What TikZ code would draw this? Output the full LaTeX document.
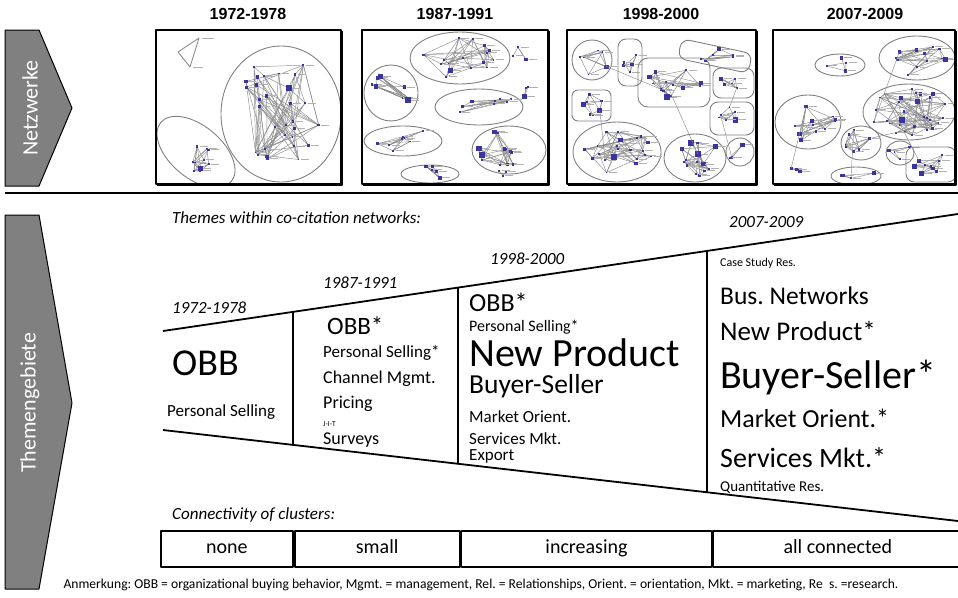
\documentclass[tikz,border=0pt]{standalone}
\usepackage{fontspec}
\setmainfont{Carlito}
\newfontfamily\headfont{Liberation Sans}
\definecolor{pfeilgris}{rgb}{0.5,0.5,0.5}
\definecolor{netblue}{rgb}{0.23,0.2,0.62}
\definecolor{ringgris}{rgb}{0.5,0.5,0.5}
\usetikzlibrary{positioning}
\frenchspacing

\newcommand{\fsz}[1]{\fontsize{#1}{#1}\selectfont}

% points, edges and label strokes of one cluster
\newcommand{\netdots}[6]{%
  \foreach \k in {1,...,#6}{%
    \pgfmathsetmacro{\ang}{360*rnd}%
    \pgfmathsetmacro{\rr}{0.85*sqrt(rnd)}%
    \coordinate (#1-\k) at ({#2+#4*\rr*cos(\ang)},{#3+#5*\rr*sin(\ang)});%
  }%
  \foreach \k in {1,...,#6}{%
    \pgfmathtruncatemacro{\ja}{random(1,#6)}%
    \pgfmathtruncatemacro{\jb}{random(1,#6)}%
    \pgfmathtruncatemacro{\jc}{random(1,#6)}%
    \draw[netedge] (#1-\k) -- (#1-\ja) (#1-\k) -- (#1-\jb) (#1-\k) -- (#1-\jc);%
  }%
  \foreach \k in {1,...,#6}{%
    \draw[netlabel] (#1-\k) ++(2.5,0) -- ++(8,0);%
    \pgfmathsetmacro{\sz}{0.9+2.2*rnd^4}%
    \fill[netblue] (#1-\k) ++(-\sz,-\sz) rectangle ++(2*\sz,2*\sz);%
  }%
}
\newcommand{\netblob}[6]{%
  \draw[netring] (#2,#3) ellipse [x radius=#4, y radius=#5];%
  \netdots{#1}{#2}{#3}{#4}{#5}{#6}%
}

\begin{document}
\begin{tikzpicture}[x=1pt, y=-1pt, line join=round]
  \tikzstyle{pfeil}=[fill=pfeilgris, draw=black, line width=1pt]
  \tikzstyle{pfeiltext}=[text=white, rotate=90, font=\fsz{22}]
  \tikzstyle{netframe}=[draw=black, line width=1.2pt]
  \tikzstyle{netring}=[draw=ringgris, line width=0.9pt]
  \tikzstyle{netedge}=[draw=black!45, line width=0.45pt]
  \tikzstyle{netlabel}=[draw=black!30, line width=1pt]
  \tikzstyle{trichter}=[draw=black, line width=1.8pt]
  \tikzstyle{theme}=[anchor=base west, inner sep=0pt]
  \tikzstyle{jahr}=[theme, font=\fsz{17}\itshape]
  \tikzstyle{titel}=[inner sep=0pt, font=\fsz{16}\headfont\bfseries]
  \tikzstyle{zelle}=[draw=black, line width=1.8pt, minimum height=36pt, inner sep=0pt,
                     text height=13pt, text depth=3pt, font=\fsz{20}]

  \useasboundingbox (0,0) rectangle (958,597);
  \pgfmathsetseed{11}

  % side arrows
  \draw[pfeil] (5,30) -- (39,30) -- (72,108) -- (39,186) -- (5,186) -- cycle;
  \node[pfeiltext] (netz) at (30,108) {Netzwerke};
  \draw[pfeil] (5,215) -- (39,215) -- (72,403) -- (39,589) -- (5,589) -- cycle;
  \node[pfeiltext] (themen) at (30,403) {Themengebiete};
  \coordinate (sepL) at (5,193);
  \coordinate (sepR) at (958,193);
  \draw[line width=2.4pt] (sepL) -- (sepR);

  % network snapshots
  \node[titel] (t72) at (248,14) {1972-1978};
  \node[titel] (t87) at (455,14) {1987-1991};
  \node[titel] (t98) at (661,14) {1998-2000};
  \node[titel] (t07) at (865,14) {2007-2009};

  \begin{scope}
    \clip (156,30) rectangle (341,184);
    \coordinate (a01) at (199,38);
    \coordinate (a02) at (178,52);
    \coordinate (a03) at (190,67);
    \draw[netedge, line width=0.9pt] (a01) -- (a02) -- (a03) -- cycle (a01) -- (a03);
    \draw[netlabel] (a01) ++(3,0) -- ++(12,0) (a03) ++(3,0) -- ++(10,0);
    \netblob{a1}{281}{114}{60}{68}{30}
    \draw[netring, rotate around={-40:(196,152)}] (196,152) ellipse [x radius=46, y radius=26];
    \netdots{a2}{200}{160}{20}{18}{10}
  \end{scope}
  \draw[netframe] (156,30) rectangle (341,184);
  \draw[line width=1.8pt] (342,31) -- (342,185) -- (157,185);

  \begin{scope}
    \clip (362,30) rectangle (548,184);
    \netblob{b1}{460}{58}{50}{26}{16}
    \netblob{b2}{391}{93}{27}{28}{8}
    \netblob{b3}{479}{107}{44}{18}{8}
    \netblob{b4}{403}{141}{39}{15}{8}
    \netblob{b5}{509}{150}{37}{24}{14}
    \netblob{b6}{430}{174}{29}{9}{5}
    \netdots{b7}{521}{53}{10}{10}{3}
    \netdots{b8}{524}{91}{8}{9}{3}
    \netdots{b9}{501}{173}{14}{7}{3}
  \end{scope}
  \draw[netframe] (362,30) rectangle (548,184);
  \draw[line width=1.8pt] (549,31) -- (549,185) -- (363,185);

  \begin{scope}
    \clip (567,30) rectangle (756,184);
    \netblob{c1}{592}{60}{20}{20}{6}
    \draw[netring, rounded corners=8pt] (618,39) rectangle (642,86);
    \netdots{c2}{630}{62}{10}{20}{6}
    \draw[netring, rounded corners=10pt] (638,58) rectangle (710,107);
    \netdots{c3}{674}{82}{32}{20}{14}
    \draw[netring, rounded corners=8pt, rotate around={-12:(715,56)}] (679,46) rectangle (751,66);
    \netdots{c4}{715}{56}{30}{9}{6}
    \draw[netring, rounded corners=8pt] (713,68) rectangle (754,98);
    \netdots{c5}{733}{83}{17}{12}{5}
    \draw[netring, rounded corners=8pt] (710,102) rectangle (754,135);
    \netdots{c6}{732}{118}{18}{14}{6}
    \draw[netring, rounded corners=6pt] (572,90) rectangle (611,121);
    \netdots{c7}{591}{105}{16}{13}{7}
    \netblob{c8}{617}{152}{44}{30}{22}
    \netblob{c9}{695}{158}{31}{24}{16}
    \netblob{c10}{740}{152}{14}{14}{3}
    \draw[netedge] (c1-1) -- (c3-2) (c7-1) -- (c8-3) (c3-4) -- (c9-1) (c5-2) -- (c6-3) (c6-1) -- (c10-2);
  \end{scope}
  \draw[netframe] (567,30) rectangle (756,184);
  \draw[line width=1.8pt] (757,31) -- (757,185) -- (568,185);

  \begin{scope}
    \clip (773,30) rectangle (955,184);
    \netblob{d1}{917}{58}{38}{22}{12}
    \netblob{d2}{840}{65}{25}{11}{4}
    \netblob{d3}{909}{112}{46}{28}{30}
    \netblob{d4}{808}{122}{33}{27}{12}
    \netblob{d5}{861}{143}{20}{17}{8}
    \netblob{d6}{900}{153}{14}{12}{4}
    \draw[netring, rounded corners=8pt] (906,147) rectangle (956,182);
    \netdots{d7}{931}{164}{22}{15}{10}
    \netblob{d8}{856}{176}{25}{9}{4}
    \netdots{d9}{797}{169}{8}{8}{3}
    \draw[netedge] (d4-1) -- (d9-1) (d3-2) -- (d5-1) (d1-3) -- (d3-5) (d5-2) -- (d8-1) (d3-7) -- (d7-2);
  \end{scope}
  \draw[netframe] (773,30) rectangle (955,184);
  \draw[line width=1.8pt] (956,31) -- (956,185) -- (774,185);

  % funnel of themes
  \node[theme, font=\fsz{17}\itshape] (themes) at (172,223) {Themes within co-citation networks:};

  \coordinate (oL) at (163,331);
  \coordinate (oR) at (958,214);
  \coordinate (uL) at (163,430);
  \coordinate (uR) at (958,521);
  \coordinate (o1) at (293,311.9);
  \coordinate (u1) at (293,444.9);
  \coordinate (o2) at (458,287.6);
  \coordinate (u2) at (458,463.8);
  \coordinate (o3) at (707,250.9);
  \coordinate (u3) at (707,492.3);
  \draw[trichter] (oL) -- (oR);
  \draw[trichter] (uL) -- (uR);
  \draw[trichter] (o1) -- (u1);
  \draw[trichter] (o2) -- (u2);
  \draw[trichter] (o3) -- (u3);

  \node[jahr] (yr72) at (172,313) {1972-1978};
  \node[theme, font=\fsz{38}] (obb72) at (172,375) {OBB};
  \node[theme, font=\fsz{17}] (ps72) at (167,416) {Personal Selling};

  \node[jahr] (yr87) at (323,288) {1987-1991};
  \node[theme, font=\fsz{25}] (obb87) at (327,334) {OBB*};
  \node[theme, font=\fsz{17}] (ps87) at (323,357) {Personal Selling*};
  \node[theme, font=\fsz{18}] (ch87) at (323,383) {Channel Mgmt.};
  \node[theme, font=\fsz{18}] (pr87) at (323,408) {Pricing};
  \node[theme, font=\fsz{7.5}] (jit87) at (323,426) {J-I-T};
  \node[theme, font=\fsz{18}] (su87) at (323,444) {Surveys};

  \node[jahr] (yr98) at (490,264) {1998-2000};
  \node[theme, font=\fsz{26}] (obb98) at (469,311) {OBB*};
  \node[theme, font=\fsz{16}] (ps98) at (469,331) {Personal Selling*};
  \node[theme, font=\fsz{40}] (np98) at (469,366) {New Product};
  \node[theme, font=\fsz{27.5}] (bs98) at (469,393) {Buyer-Seller};
  \node[theme, font=\fsz{17}] (mo98) at (469,422) {Market Orient.};
  \node[theme, font=\fsz{17}] (sm98) at (469,444) {Services Mkt.};
  \node[theme, font=\fsz{17}] (ex98) at (469,460) {Export};

  \node[jahr] (yr07) at (729,227) {2007-2009};
  \node[theme, font=\fsz{12}] (cs07) at (720,266) {Case Study Res.};
  \node[theme, font=\fsz{25.5}] (bn07) at (720,304) {Bus. Networks};
  \node[theme, font=\fsz{27}] (np07) at (720,340) {New Product*};
  \node[theme, font=\fsz{40}] (bs07) at (720,388) {Buyer-Seller*};
  \node[theme, font=\fsz{26}] (mo07) at (720,427) {Market Orient.*};
  \node[theme, font=\fsz{28}] (sm07) at (720,467) {Services Mkt.*};
  \node[theme, font=\fsz{15}] (qr07) at (720,491) {Quantitative Res.};

  % connectivity
  \node[theme, font=\fsz{17}\itshape] (conn) at (172,519) {Connectivity of clusters:};
  \node[zelle, minimum width=132pt, anchor=north west] (none) at (160,530) {none};
  \node[zelle, minimum width=165pt, right=0pt of none] (small) {small};
  \node[zelle, minimum width=250pt, right=0pt of small] (incr) {increasing};
  \node[zelle, minimum width=249pt, right=0pt of incr] (allc) {all connected};

  \node[anchor=base, inner sep=0pt, font=\fsz{13.6}] (note) at (481,588) {Anmerkung: OBB = organizational buying behavior, Mgmt. = management, Rel. = Relationships, Orient. = orientation, Mkt. = marketing, Re~~s. =research.};

\end{tikzpicture}
\end{document}
